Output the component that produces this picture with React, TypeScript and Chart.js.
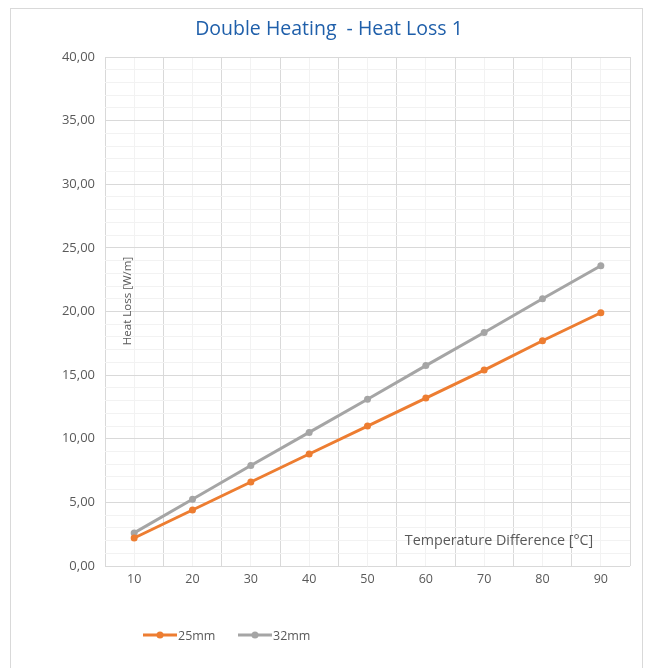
import React, { useEffect, useRef } from "react";
import { Chart, registerables } from "chart.js";

Chart.register(...registerables);

const categories = [10, 20, 30, 40, 50, 60, 70, 80, 90];
const series25mm = [2.2, 4.4, 6.6, 8.8, 11.0, 13.2, 15.4, 17.7, 19.9];
const series32mm = [2.6, 5.25, 7.9, 10.5, 13.1, 15.75, 18.35, 21.0, 23.6];
const seriesLabels = ["25mm", "32mm"];
const seriesColors = ["#ED7D31", "#A5A5A5"];
const titleText = "Double Heating  - Heat Loss 1";
const yTitle = "Heat Loss [W/m]";
const xTitle = "Temperature Difference [°C]";

const FONT = "'Open Sans', 'Liberation Sans', sans-serif";
const TEXT = "#595959";

const frame = {
  id: "frame",
  beforeDraw(chart: any) {
    const { ctx, width, height } = chart;
    ctx.save();
    ctx.fillStyle = "#ffffff";
    ctx.fillRect(0, 0, width, height);
    ctx.strokeStyle = "#d9d9d9";
    ctx.lineWidth = 1;
    ctx.strokeRect(10.5, 8.5, 632, 670);
    ctx.restore();
  },
  afterDraw(chart: any) {
    const { ctx, chartArea } = chart;
    ctx.save();
    // title
    ctx.fillStyle = "#1F5FAA";
    ctx.font = `19.5px ${FONT}`;
    ctx.textAlign = "center";
    ctx.textBaseline = "middle";
    ctx.fillText(titleText, 329, 29);
    // y title inside plot
    ctx.fillStyle = TEXT;
    ctx.font = `11.5px ${FONT}`;
    ctx.save();
    ctx.translate(chartArea.left + 23, 301);
    ctx.rotate(-Math.PI / 2);
    ctx.fillText(yTitle, 0, 0);
    ctx.restore();
    // x title inside plot
    ctx.font = `14.3px ${FONT}`;
    ctx.fillText(xTitle, 499, 541);
    // legend
    const items = chart.data.datasets;
    let x = 143;
    const y = 635;
    ctx.textAlign = "left";
    ctx.font = `12.5px ${FONT}`;
    items.forEach((ds: any) => {
      ctx.strokeStyle = ds.borderColor;
      ctx.lineWidth = 3;
      ctx.beginPath();
      ctx.moveTo(x, y);
      ctx.lineTo(x + 34, y);
      ctx.stroke();
      ctx.fillStyle = ds.borderColor;
      ctx.beginPath();
      ctx.arc(x + 17, y, 3.5, 0, Math.PI * 2);
      ctx.fill();
      ctx.fillStyle = TEXT;
      ctx.fillText(ds.label, x + 35, y + 1);
      x += 95;
    });
    ctx.restore();
  },
};

export default function App() {
  const ref = useRef<HTMLCanvasElement>(null);
  useEffect(() => {
    if (!ref.current) return;
    const mk = (vals: number[]) => categories.map((c, i) => ({ x: c, y: vals[i] }));
    const chart = new Chart(ref.current, {
      type: "line",
      data: {
        datasets: [series25mm, series32mm].map((vals, i) => ({
          label: seriesLabels[i],
          data: mk(vals),
          borderColor: seriesColors[i],
          backgroundColor: seriesColors[i],
          borderWidth: 3,
          pointRadius: 3.5,
          pointBorderWidth: 0,
          pointHoverRadius: 3.5,
          tension: 0,
        })),
      },
      options: {
        animation: false,
        responsive: false,
        devicePixelRatio: 1,
        layout: { padding: { left: 40, right: 22, top: 57, bottom: 72 } },
        plugins: { legend: { display: false }, title: { display: false }, tooltip: { enabled: false } },
        scales: {
          x: {
            type: "linear",
            min: 5,
            max: 95,
            afterFit: (s: any) => { s.height = 30; },
            afterBuildTicks: (s: any) => {
              const t = [];
              for (let v = 5; v <= 95; v += 5) t.push({ value: v });
              s.ticks = t;
            },
            ticks: {
              color: TEXT,
              font: { family: FONT, size: 12.5 },
              padding: 6,
              maxRotation: 0,
              autoSkip: false,
              callback: (v: any) => (v % 10 === 0 ? String(v) : ""),
            },
            grid: {
              color: (c: any) => (c.tick && c.tick.value % 10 === 5 ? "#d9d9d9" : "#f2f2f2"),
              drawTicks: false,
            },
            border: { display: false },
          },
          y: {
            min: 0,
            max: 40,
            afterFit: (s: any) => { s.width = 65; },
            ticks: {
              stepSize: 1,
              autoSkip: false,
              color: TEXT,
              font: { family: FONT, size: 13 },
              padding: 10,
              callback: (v: any) => (v % 5 === 0 ? Number(v).toFixed(2).replace(".", ",") : ""),
            },
            grid: {
              color: (c: any) => (c.tick && c.tick.value % 5 === 0 ? "#d9d9d9" : "#f2f2f2"),
              drawTicks: false,
            },
            border: { display: false },
          },
        },
      },
      plugins: [frame],
    });
    return () => chart.destroy();
  }, []);
  return (
    <div style={{ position: "absolute", left: 0, top: 0, width: 652, height: 668 }}>
      <canvas ref={ref} width={652} height={668} style={{ width: 652, height: 668 }} />
    </div>
  );
}
